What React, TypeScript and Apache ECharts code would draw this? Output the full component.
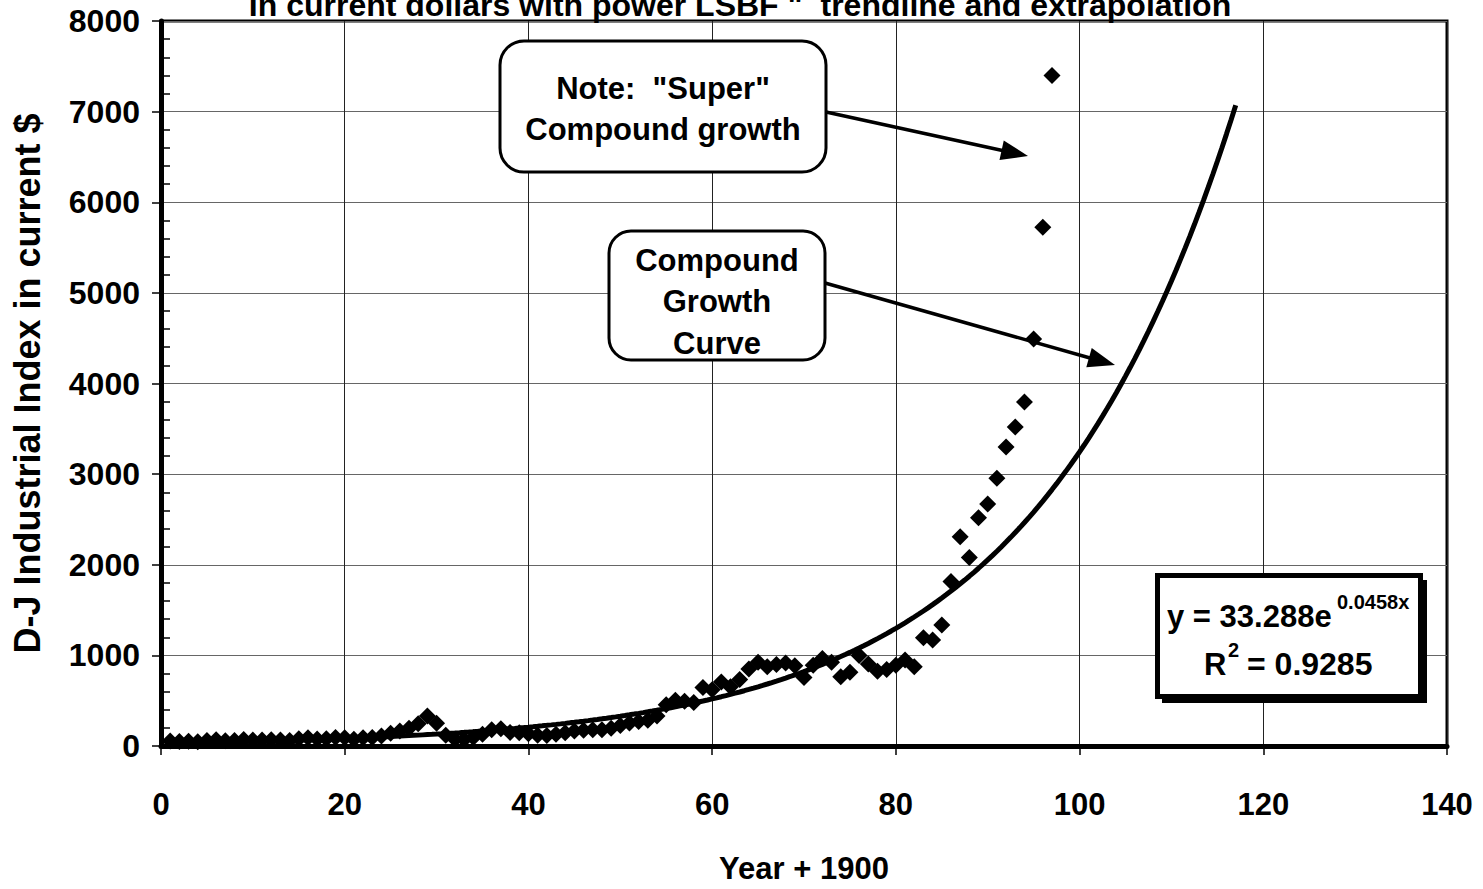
import React, { useEffect, useRef } from "react";
import * as echarts from "echarts";

const TITLE = 'In current dollars with power LSBF "  trendline and extrapolation';
const X_TITLE = "Year + 1900";
const Y_TITLE = "D-J Industrial Index in current $";

const X_MIN = 0;
const X_MAX = 140;
const X_STEP = 20;
const Y_MIN = 0;
const Y_MAX = 8000;
const Y_STEP = 1000;

const FIRST_YEAR = 1;
const DJIA = [
  55, 50, 52, 48, 60, 70, 58, 62, 72, 65,
  65, 68, 65, 60, 80, 90, 78, 80, 95, 90,
  75, 90, 95, 110, 140, 165, 195, 245, 330, 250,
  120, 75, 72, 95, 130, 180, 190, 150, 145, 135,
  120, 115, 130, 145, 165, 175, 180, 180, 195, 225,
  255, 270, 285, 330, 455, 505, 495, 480, 645, 620,
  705, 655, 735, 850, 925, 875, 900, 915, 885, 755,
  890, 965, 925, 765, 815, 1000, 905, 825, 845, 890,
  950, 875, 1195, 1170, 1335, 1815, 2310, 2080, 2520, 2670,
  2955, 3300, 3520, 3795, 4490, 5725, 7400,
];

const TREND_A = 33.288;
const TREND_B = 0.0458;
const TREND_START = 1;
const TREND_END = 117;

const NOTE_SUPER = ['Note:  "Super"', "Compound growth"];
const NOTE_CURVE = ["Compound", "Growth", "Curve"];
const EQ_MAIN = "y = 33.288e";
const EQ_EXP = "0.0458x";
const R2_LEFT = "R";
const R2_SUP = "2";
const R2_RIGHT = "= 0.9285";

const FONT = "Arial";

function txt(x: number, y: number, text: string, size: number, align = "center") {
  return {
    type: "text",
    x,
    y,
    z: 20,
    style: {
      text,
      fontSize: size,
      fontWeight: "bold",
      fontFamily: FONT,
      fill: "#000",
      align,
      verticalAlign: "middle",
    },
  };
}

function arrow(x1: number, y1: number, x2: number, y2: number) {
  const dx = x2 - x1;
  const dy = y2 - y1;
  const len = Math.sqrt(dx * dx + dy * dy);
  const ux = dx / len;
  const uy = dy / len;
  const head = 27;
  const half = 10;
  const bx = x2 - ux * head;
  const by = y2 - uy * head;
  const nx = -uy;
  const ny = ux;
  return [
    {
      type: "line",
      z: 15,
      shape: { x1, y1, x2: bx + ux * 2, y2: by + uy * 2 },
      style: { stroke: "#000", lineWidth: 3.5 },
    },
    {
      type: "polygon",
      z: 15,
      shape: {
        points: [
          [x2, y2],
          [bx + nx * half, by + ny * half],
          [bx - nx * half, by - ny * half],
        ],
      },
      style: { fill: "#000" },
    },
  ];
}

export default function App() {
  const ref = useRef<HTMLDivElement>(null);

  useEffect(() => {
    if (!ref.current) return;
    const chart = echarts.init(ref.current, null, { renderer: "svg" });

    const points = DJIA.map((v, i) => [FIRST_YEAR + i, v]);
    const trend: number[][] = [];
    for (let x = TREND_START; x <= TREND_END + 1e-9; x += 0.5) {
      trend.push([x, TREND_A * Math.exp(TREND_B * x)]);
    }

    const labelStyle = {
      color: "#000",
      fontSize: 31,
      fontWeight: "bold",
      fontFamily: FONT,
    };

    const graphics: any[] = [
      txt(740, 5, TITLE, 32),
      {
        type: "rect",
        z: 10,
        shape: { x: 500, y: 41, width: 326, height: 131, r: 24 },
        style: { fill: "#fff", stroke: "#000", lineWidth: 3 },
      },
      txt(663, 88, NOTE_SUPER[0], 31),
      txt(663, 129, NOTE_SUPER[1], 31),
      {
        type: "rect",
        z: 10,
        shape: { x: 609, y: 231, width: 216, height: 129, r: 22 },
        style: { fill: "#fff", stroke: "#000", lineWidth: 3 },
      },
      txt(717, 260, NOTE_CURVE[0], 31),
      txt(717, 301, NOTE_CURVE[1], 31),
      txt(717, 343, NOTE_CURVE[2], 31),
      ...arrow(826, 112, 1028, 156),
      ...arrow(825, 283, 1115, 365),
      {
        type: "rect",
        z: 10,
        shape: { x: 1162, y: 580, width: 265, height: 123 },
        style: { fill: "#000" },
      },
      {
        type: "rect",
        z: 11,
        shape: { x: 1157.5, y: 575.5, width: 263, height: 121 },
        style: { fill: "#fff", stroke: "#000", lineWidth: 5 },
      },
      txt(1167, 616, EQ_MAIN, 31, "left"),
      txt(1337, 602, EQ_EXP, 20, "left"),
      txt(1204, 664, R2_LEFT, 31, "left"),
      txt(1228, 650, R2_SUP, 20, "left"),
      txt(1247, 664, R2_RIGHT, 32, "left"),
    ];

    chart.setOption({
      animation: false,
      backgroundColor: "#fff",
      grid: {
        left: 161,
        top: 21,
        width: 1286,
        height: 745,
        show: true,
        borderColor: "#000",
        borderWidth: 3,
        containLabel: false,
      },
      xAxis: {
        type: "value",
        min: X_MIN,
        max: X_MAX,
        interval: X_STEP,
        name: X_TITLE,
        nameLocation: "middle",
        nameGap: 107,
        nameTextStyle: { ...labelStyle, fontSize: 31 },
        axisLine: { show: true, onZero: false, lineStyle: { color: "#000", width: 5 } },
        axisTick: { show: true, length: 9, lineStyle: { color: "#000", width: 1.5 } },
        axisLabel: { ...labelStyle, margin: 43, formatter: (v: number) => String(v) },
        splitLine: { show: true, lineStyle: { color: "#222", width: 1 } },
      },
      yAxis: {
        type: "value",
        min: Y_MIN,
        max: Y_MAX,
        interval: Y_STEP,
        name: Y_TITLE,
        nameLocation: "middle",
        nameRotate: 90,
        nameGap: 116,
        nameTextStyle: { ...labelStyle, fontSize: 36 },
        axisLine: { show: true, onZero: false, lineStyle: { color: "#000", width: 5 } },
        axisTick: { show: true, length: 9, lineStyle: { color: "#000", width: 1.5 } },
        minorTick: { show: true, splitNumber: 5, length: -9, lineStyle: { color: "#000", width: 1.5 } },
        axisLabel: { ...labelStyle, fontSize: 32, margin: 21, formatter: (v: number) => String(v) },
        splitLine: { show: true, lineStyle: { color: "#666", width: 1 } },
      },
      series: [
        {
          type: "scatter",
          data: points,
          symbol: "diamond",
          symbolSize: 17,
          itemStyle: { color: "#000", opacity: 1 },
          z: 3,
        },
        {
          type: "line",
          data: trend,
          showSymbol: false,
          symbol: "none",
          lineStyle: { color: "#000", width: 5 },
          z: 4,
        },
      ],
      graphic: graphics,
    });

    return () => chart.dispose();
  }, []);

  return (
    <div
      ref={ref}
      style={{ position: "absolute", left: 0, top: 0, width: 1483, height: 889, overflow: "hidden" }}
    />
  );
}
